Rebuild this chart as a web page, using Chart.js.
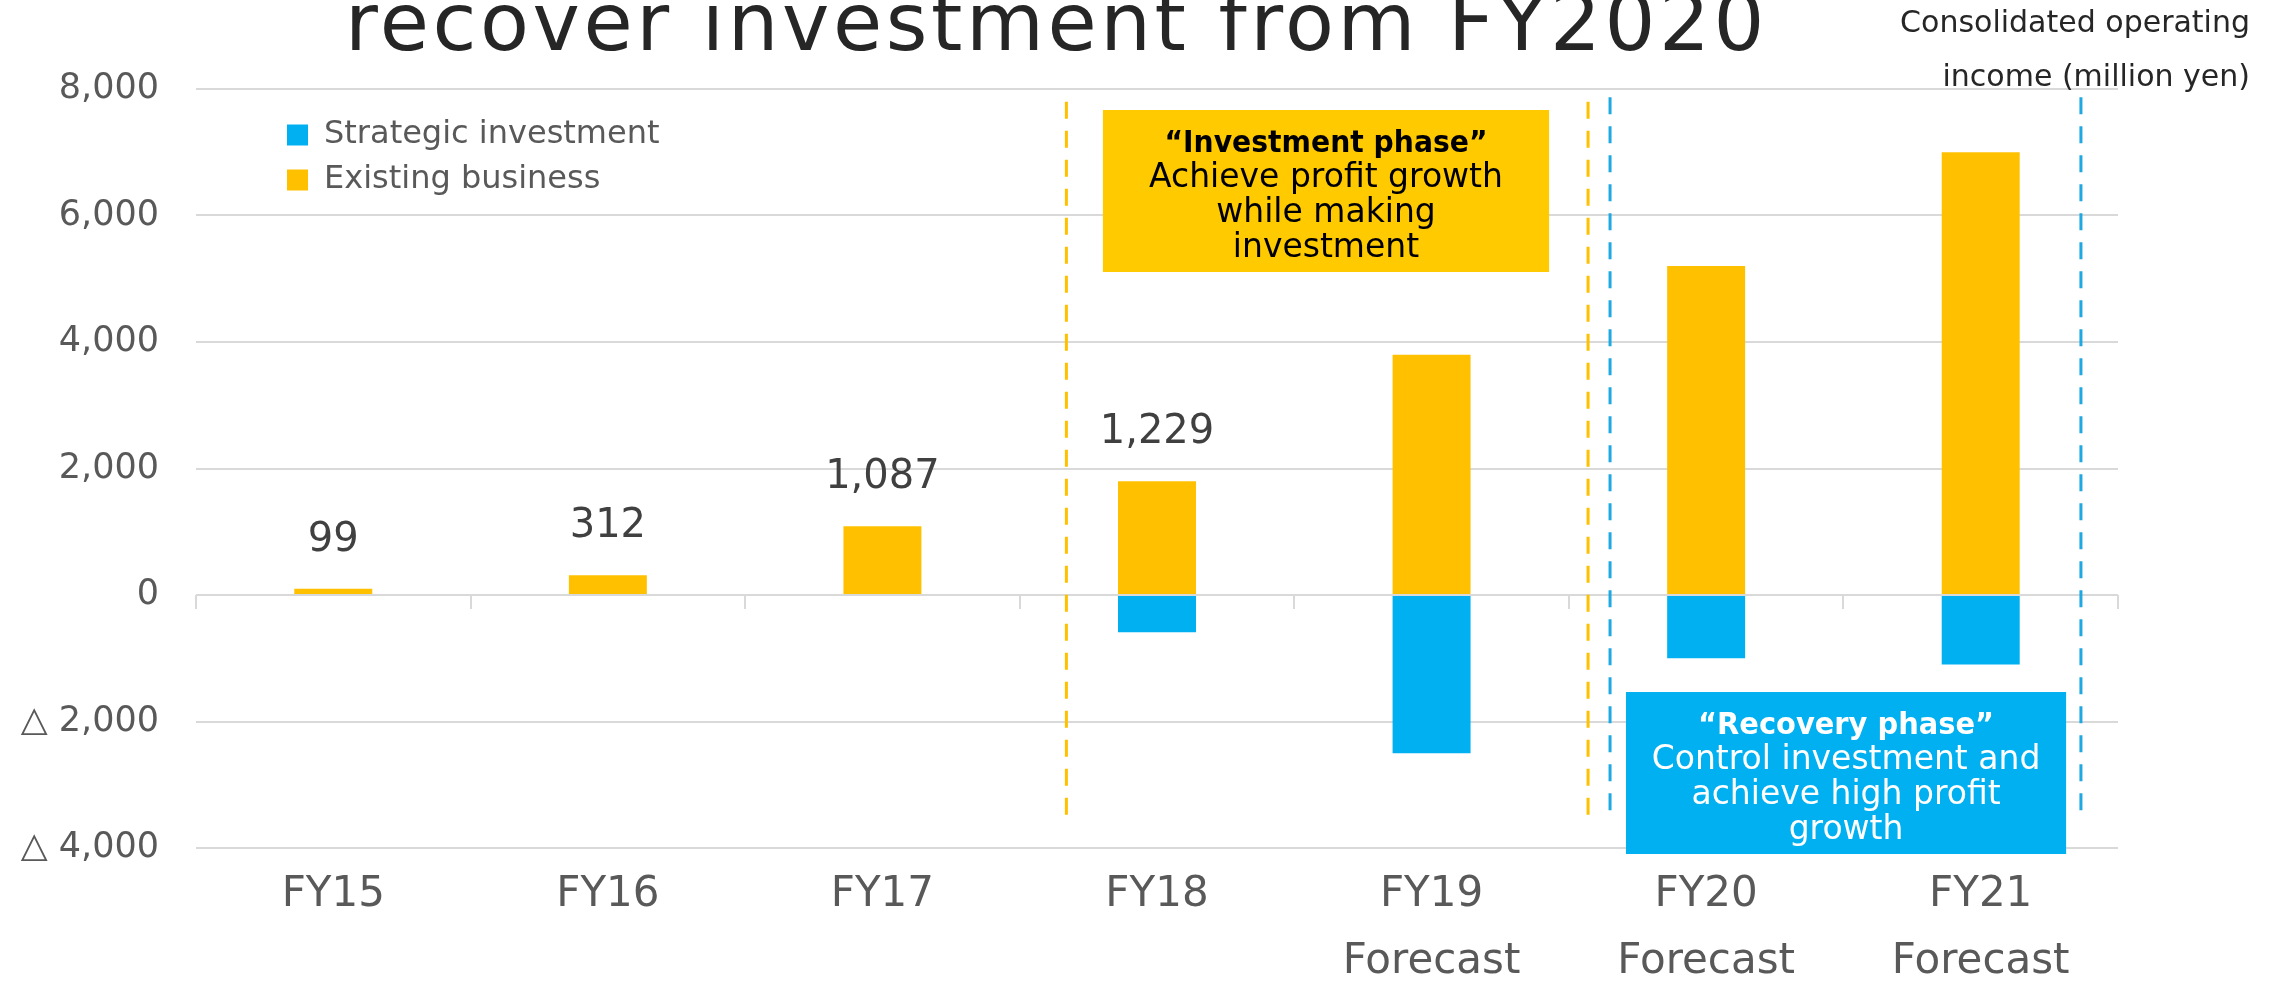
<!DOCTYPE html>
<html>
<head>
<meta charset="utf-8">
<script src="https://cdn.jsdelivr.net/npm/chart.js@4.4.1/dist/chart.umd.min.js"></script>
<style>
  html, body { margin: 0; padding: 0; background: #fff; }
  #wrap { width: 2281px; height: 982px; }
</style>
</head>
<body>
<div id="wrap"><canvas id="chart" width="2281" height="982"></canvas></div>
<script>
const categories = [["FY15"], ["FY16"], ["FY17"], ["FY18"], ["FY19", "Forecast"], ["FY20", "Forecast"], ["FY21", "Forecast"]];
const existingBusiness = [99, 312, 1087, 1800, 3800, 5200, 7000];
const strategicInvestment = [null, null, null, -590, -2500, -1000, -1100];
const totalLabels = [99, 312, 1087, 1229, null, null, null];
const yTicks = [-4000, -2000, 0, 2000, 4000, 6000, 8000];
const yTickLabels = ["△ 4,000", "△ 2,000", "0", "2,000", "4,000", "6,000", "8,000"];
const titleText = "recover investment from FY2020";
const unitLines = ["Consolidated operating", "income (million yen)"];

// phase markers, placed in axis units (category index / yen)
const phaseLines = [
  { x: 2.67, from: 7800, to: -3490, color: "#FFC000" },
  { x: 4.57, from: 7800, to: -3490, color: "#FFC000" },
  { x: 4.65, from: 7870, to: -3450, color: "#1FA8E1" },
  { x: 6.365, from: 7870, to: -3450, color: "#1FA8E1" }
];
const phaseBoxes = [
  { x0: 2.803, x1: 4.428, top: 7668, bottom: 5107, fill: "#FFCA00", text: "#000", maxHead: 323,
    lines: ["“Investment phase”", "Achieve profit growth", "while making", "investment"] },
  { x0: 4.708, x1: 6.311, top: -1534, bottom: -4095, fill: "#00B0F0", text: "#fff", maxHead: 296,
    lines: ["“Recovery phase”", "Control investment and", "achieve high profit", "growth"] }
];

const formatter = new Intl.NumberFormat("en-US");
const FONT = "'DejaVu Sans', sans-serif";
Chart.defaults.font.family = FONT;

const phaseOverlay = {
  id: "phaseOverlay",
  afterDatasetsDraw(chart) {
    const { ctx, scales: { x, y } } = chart;
    ctx.save();

    // short tick marks on the zero line between categories
    const zero = y.getPixelForValue(0);
    ctx.strokeStyle = "#D9D9D9";
    ctx.lineWidth = 2;
    for (let i = 0; i <= categories.length; i++) {
      const px = Math.round(x.getPixelForValue(i - 0.5));
      ctx.beginPath();
      ctx.moveTo(px, zero);
      ctx.lineTo(px, zero + 14);
      ctx.stroke();
    }

    phaseLines.forEach(line => {
      const px = x.getPixelForValue(line.x);
      ctx.beginPath();
      ctx.setLineDash([17, 12]);
      ctx.lineWidth = 3;
      ctx.strokeStyle = line.color;
      ctx.moveTo(px, y.getPixelForValue(line.from));
      ctx.lineTo(px, y.getPixelForValue(line.to));
      ctx.stroke();
    });
    ctx.setLineDash([]);

    phaseBoxes.forEach(box => {
      const left = x.getPixelForValue(box.x0);
      const right = x.getPixelForValue(box.x1);
      const top = y.getPixelForValue(box.top);
      const bottom = y.getPixelForValue(box.bottom);
      ctx.fillStyle = box.fill;
      ctx.fillRect(left, top, right - left, bottom - top);

      const cx = (left + right) / 2;
      ctx.fillStyle = box.text;
      ctx.textAlign = "center";
      ctx.textBaseline = "alphabetic";
      box.lines.forEach((text, i) => {
        const baseline = top + 42 + i * 35;
        if (i === 0) {
          ctx.font = `bold 31px ${FONT}`;
          ctx.fillText(text, cx, baseline, box.maxHead);
        } else {
          ctx.font = `33px ${FONT}`;
          ctx.fillText(text, cx, baseline);
        }
      });
    });

    // totals above the bars
    const meta = chart.getDatasetMeta(1);
    ctx.font = `40px ${FONT}`;
    ctx.fillStyle = "#404040";
    ctx.textAlign = "center";
    totalLabels.forEach((value, i) => {
      if (value === null) return;
      const bar = meta.data[i];
      ctx.fillText(formatter.format(value), bar.x, bar.y - 38);
    });

    ctx.restore();
  },
  afterDraw(chart) {
    const { ctx } = chart;
    ctx.save();
    ctx.fillStyle = "#262626";
    ctx.textBaseline = "alphabetic";
    ctx.textAlign = "left";
    ctx.font = `80px ${FONT}`;
    const w = ctx.measureText(titleText).width;
    if ("letterSpacing" in ctx) {
      ctx.letterSpacing = ((1423 - w) / titleText.length) + "px";
    }
    ctx.fillText(titleText, 345, 50);
    if ("letterSpacing" in ctx) ctx.letterSpacing = "0px";

    ctx.textAlign = "right";
    ctx.font = `30px ${FONT}`;
    ctx.fillText(unitLines[0], 2250, 32);
    ctx.fillText(unitLines[1], 2250, 86);
    ctx.restore();
  }
};

const legendShift = {
  id: "legendShift",
  afterLayout(chart) {
    const legend = chart.legend;
    if (!legend) return;
    legend.left = chart.chartArea.left + 78;
    legend.top = chart.chartArea.top + 17;
  }
};

new Chart(document.getElementById("chart"), {
  type: "bar",
  data: {
    labels: categories,
    datasets: [
      {
        label: "Strategic investment",
        data: strategicInvestment,
        backgroundColor: "#00B0F0",
        borderWidth: 0,
        barPercentage: 0.284,
        categoryPercentage: 1
      },
      {
        label: "Existing business",
        data: existingBusiness,
        backgroundColor: "#FFC000",
        borderWidth: 0,
        barPercentage: 0.284,
        categoryPercentage: 1
      }
    ]
  },
  options: {
    responsive: false,
    animation: false,
    devicePixelRatio: 1,
    layout: { padding: { top: 89, right: 163, bottom: 0, left: 0 } },
    plugins: {
      legend: {
        position: "chartArea",
        align: "start",
        labels: {
          boxWidth: 21,
          boxHeight: 21,
          padding: 13,
          color: "#595959",
          font: { size: 32 }
        }
      },
      tooltip: { enabled: false }
    },
    scales: {
      x: {
        stacked: true,
        grid: { display: false, drawTicks: false },
        border: { display: false },
        ticks: {
          color: "#595959",
          padding: 13,
          maxRotation: 0,
          autoSkip: false,
          font: { size: 42, lineHeight: 1.6 }
        },
        afterFit(scale) { scale.height = 134; }
      },
      y: {
        stacked: true,
        min: -4000,
        max: 8000,
        grid: { color: "#D9D9D9", lineWidth: 2, drawTicks: false },
        border: { display: false },
        ticks: {
          stepSize: 2000,
          color: "#595959",
          padding: 37,
          font: { size: 35 },
          callback: value => {
            const k = yTicks.indexOf(value);
            return k >= 0 ? yTickLabels[k] : "";
          }
        },
        afterFit(scale) { scale.width = 196; }
      }
    }
  },
  plugins: [phaseOverlay, legendShift]
});
</script>
</body>
</html>
